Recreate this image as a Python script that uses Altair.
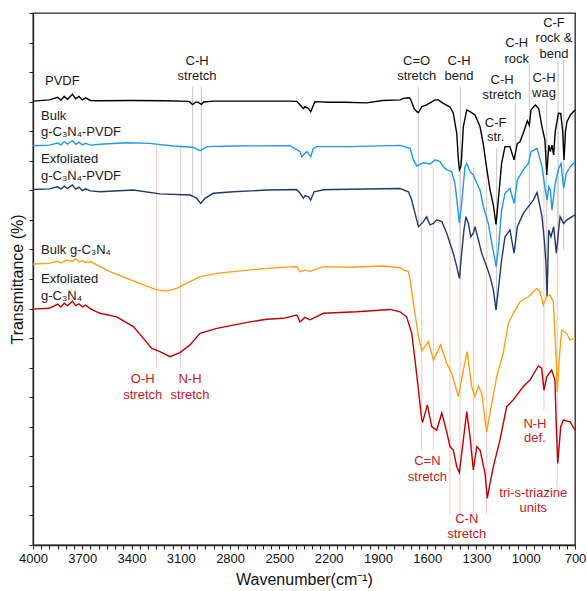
import altair as alt
import pandas as pd

# ---------------- spectra (wavenumber, transmittance offset) ----------------
PVDF_WN = [4000, 3900, 3850, 3830, 3810, 3790, 3760, 3740, 3720, 3700, 3680, 3650, 3600, 3400, 3200, 3050, 3028, 3010, 2995, 2975,
           2960, 2900, 2600, 2450, 2394, 2374, 2354, 2344, 2323, 2309, 2297, 2283, 2200, 2100, 1970, 1870, 1765, 1745, 1714, 1704,
           1694, 1680, 1663, 1653, 1633, 1603, 1583, 1552, 1532, 1502, 1471, 1461, 1441, 1420, 1410, 1404, 1395, 1390, 1380, 1359,
           1339, 1309, 1278, 1258, 1238, 1217, 1197, 1181, 1167, 1147, 1126, 1096, 1071, 1051, 1035, 1015, 990, 978, 968, 942,
           921, 901, 883, 872, 860, 850, 840, 830, 820, 801, 787, 775, 767, 758, 749, 728, 700]
PVDF_T = [150.2, 150.6, 151.5, 150.5, 151.8, 150.8, 152.5, 151.0, 151.8, 150.6, 151.3, 150.4, 150.3, 150.4, 150.3, 150.1, 149.0, 149.8, 149.8, 149.1,
          149.9, 150.2, 150.2, 150.2, 150.1, 148.9, 147.7, 148.3, 147.7, 146.6, 148.3, 150.0, 149.8, 149.8, 149.6, 150.4, 150.6, 151.1, 151.3, 151.1,
          149.9, 147.7, 146.6, 146.3, 148.3, 148.9, 149.6, 150.6, 150.6, 149.4, 148.5, 148.2, 146.1, 139.3, 130.3, 126.9, 128.0, 131.4, 141.5, 147.2,
          146.6, 145.5, 141.5, 135.5, 127.6, 120.1, 115.0, 108.5, 116.7, 129.1, 134.8, 134.8, 130.3, 135.9, 136.4, 139.3, 143.5, 142.0, 147.2, 148.9,
          147.7, 141.5, 137.0, 125.2, 135.3, 133.1, 135.3, 132.0, 140.0, 146.1, 146.0, 140.0, 130.3, 140.0, 143.2, 145.5, 147.2]

BULK_PVDF_WN = [4000, 3900, 3850, 3830, 3810, 3790, 3760, 3740, 3720, 3700, 3680, 3650, 3592, 3430, 3290, 3146, 3028, 2983, 2942, 2780,
                2435, 2374, 2364, 2344, 2333, 2323, 2309, 2293, 2273, 2070, 1765, 1704, 1684, 1663, 1653, 1623, 1583, 1552, 1522, 1502,
                1481, 1451, 1431, 1417, 1404, 1390, 1370, 1359, 1339, 1319, 1298, 1278, 1258, 1228, 1207, 1187, 1181, 1167, 1147, 1126,
                1096, 1071, 1051, 1015, 984, 968, 931, 901, 881, 870, 860, 850, 840, 820, 799, 785, 769, 753, 728, 700]
BULK_PVDF_T = [135.1, 135.3, 136.0, 135.4, 136.5, 135.6, 136.8, 135.6, 136.3, 135.4, 135.9, 135.3, 135.6, 136.1, 135.9, 135.0, 134.6, 133.4, 134.8, 135.0,
               135.1, 133.1, 131.4, 132.5, 133.1, 132.5, 131.4, 134.2, 134.8, 134.8, 135.2, 134.2, 130.3, 128.2, 128.6, 129.3, 128.9, 130.3, 129.7, 128.0,
               127.0, 126.3, 122.4, 115.6, 109.0, 115.6, 128.0, 129.1, 126.3, 125.2, 122.4, 120.1, 114.5, 108.8, 102.1, 96.4, 94.2, 99.8, 113.3, 119.0,
               120.7, 115.6, 123.5, 126.9, 129.1, 133.1, 134.2, 128.0, 120.1, 116.7, 121.2, 120.1, 113.3, 122.4, 127.4, 129.1, 120.7, 125.8, 128.0, 129.7]

EXF_PVDF_WN = [4000, 3900, 3850, 3830, 3810, 3790, 3760, 3740, 3720, 3700, 3680, 3650, 3592, 3389, 3227, 3044, 3028, 3003, 2979, 2953,
               2902, 2780, 2577, 2394, 2374, 2354, 2344, 2323, 2309, 2289, 2232, 2172, 1765, 1714, 1694, 1674, 1653, 1623, 1603, 1583,
               1562, 1542, 1511, 1481, 1441, 1420, 1404, 1390, 1376, 1364, 1349, 1335, 1319, 1309, 1288, 1268, 1238, 1217, 1197, 1181,
               1167, 1147, 1126, 1096, 1071, 1051, 1015, 984, 954, 931, 901, 887, 877, 870, 860, 846, 830, 814, 791, 769,
               749, 700]
EXF_PVDF_T = [120.3, 120.5, 121.2, 120.4, 121.4, 120.6, 121.8, 120.4, 121.1, 119.9, 120.5, 119.8, 119.5, 120.1, 118.8, 118.4, 118.0, 117.3, 115.6, 117.3,
              119.0, 119.5, 120.1, 120.3, 119.0, 117.3, 118.2, 117.8, 116.7, 119.5, 120.2, 120.3, 120.6, 119.5, 116.7, 112.2, 107.7, 109.4, 111.1, 108.3,
              108.8, 110.0, 109.4, 105.5, 98.7, 94.2, 90.2, 98.7, 106.6, 111.1, 108.8, 104.3, 105.5, 107.7, 103.2, 98.7, 94.2, 90.8, 86.3, 79.5,
              86.3, 96.4, 104.3, 106.6, 98.7, 107.7, 112.2, 114.5, 116.7, 119.3, 111.1, 103.2, 95.4, 84.2, 106.6, 104.3, 107.7, 98.7, 111.1, 108.8,
              110.0, 111.7]

BULK_CN_WN = [4000, 3900, 3850, 3830, 3800, 3760, 3740, 3720, 3700, 3680, 3650, 3592, 3531, 3429, 3328, 3247, 3186, 3125, 3064, 2983,
              2881, 2780, 2577, 2394, 2374, 2344, 2313, 2232, 2070, 1867, 1765, 1745, 1714, 1704, 1684, 1653, 1633, 1593, 1562, 1518,
              1481, 1451, 1410, 1380, 1356, 1329, 1309, 1288, 1268, 1238, 1207, 1177, 1137, 1106, 1076, 1035, 984, 933, 913, 893,
              872, 852, 832, 815, 808, 795, 781, 750, 730, 700]
BULK_CN_T = [95.1, 95.3, 96.0, 95.4, 96.3, 96.0, 96.9, 95.8, 96.2, 95.6, 95.9, 94.2, 92.5, 90.2, 88.0, 86.3, 85.9, 86.8, 88.5, 90.8,
             91.9, 92.5, 93.6, 94.2, 92.5, 93.0, 92.6, 94.2, 94.0, 94.4, 93.8, 93.0, 92.5, 89.7, 81.9, 70.5, 65.7, 68.8, 62.6, 67.7,
             61.5, 58.1, 50.2, 59.2, 65.4, 53.6, 50.2, 53.8, 51.3, 38.2, 47.9, 56.9, 64.9, 75.0, 78.4, 82.3, 84.0, 86.8, 85.7, 81.2,
             84.0, 84.6, 82.3, 63.7, 51.9, 63.7, 72.7, 71.6, 69.4, 69.9]

EXF_CN_WN = [4000, 3900, 3850, 3830, 3810, 3790, 3760, 3740, 3720, 3700, 3680, 3650, 3592, 3490, 3389, 3328, 3277, 3227, 3166, 3105,
             3044, 2983, 2881, 2780, 2679, 2577, 2476, 2394, 2374, 2344, 2313, 2232, 2029, 1826, 1765, 1725, 1694, 1674, 1653, 1633,
             1627, 1599, 1572, 1542, 1511, 1481, 1461, 1441, 1420, 1404, 1380, 1359, 1339, 1319, 1298, 1278, 1248, 1234, 1217, 1197,
             1157, 1116, 1076, 1015, 974, 923, 903, 889, 872, 842, 822, 815, 805, 787, 771, 730, 700]
EXF_CN_T = [79.8, 80.1, 81.5, 80.5, 81.8, 81.0, 82.5, 81.0, 81.6, 80.6, 81.2, 79.9, 78.4, 77.2, 73.9, 69.9, 66.5, 65.4, 63.7, 65.1,
            67.7, 71.6, 73.3, 74.4, 75.5, 76.4, 76.7, 77.8, 75.5, 77.0, 76.2, 78.4, 78.9, 79.7, 78.9, 77.2, 71.6, 62.6, 52.4, 42.3,
            41.7, 47.4, 40.0, 38.9, 44.6, 38.3, 33.3, 32.1, 26.5, 24.5, 35.5, 45.1, 36.6, 25.4, 33.3, 32.1, 24.3, 15.8, 21.0, 26.5,
            35.5, 46.8, 49.1, 53.6, 55.8, 60.6, 59.8, 52.4, 56.9, 59.2, 55.8, 42.0, 27.6, 40.0, 42.3, 41.7, 38.9]

SERIES = ["PVDF", "Bulk g-C3N4-PVDF", "Exfoliated g-C3N4-PVDF", "Bulk g-C3N4", "Exfoliated g-C3N4"]
COLORS = ["#000000", "#1b9be8", "#1f3a6b", "#ffa010", "#c00000"]

# ---------------- guide lines ----------------
GREY_WN = [3028, 2975, 1654, 1398, 1177, 1063, 978, 872, 803, 769]
GREY_TOP = [155.0, 155.0, 155.0, 155.0, 134.3, 149.5, 162.4, 150.6, 164.1, 164.1]
GREY_BOT = [118.4, 118.4, 107.9, 89.7, 79.5, 99.8, 111.6, 84.6, 99.8, 99.8]

PINK_WN = [3249, 3103, 1633, 1563, 1461, 1400, 1319, 1238, 889, 808]
PINK_TOP = [134.7, 134.7, 127.9, 127.9, 127.9, 127.9, 127.9, 127.9, 126.9, 126.9]
PINK_BOT = [60.2, 60.2, 32.1, 32.1, 10.2, 10.2, 10.2, 10.2, 45.7, 19.6]

# ---------------- labels ----------------
NAME_X = [3927, 3951, 3951, 3951, 3951, 3951, 3951, 3951]
NAME_Y = [155.6, 143.8, 138.4, 129.2, 123.5, 98.5, 88.6, 82.9]
NAME_TEXT = ["PVDF", "Bulk", "g-C₃N₄-PVDF", "Exfoliated", "g-C₃N₄-PVDF", "Bulk g-C₃N₄", "Exfoliated", "g-C₃N₄"]

BAND_X = [3001, 3001, 1664, 1664, 1406, 1406, 1144, 1144, 1183, 1183, 1055, 1055, 889, 889, 828, 828, 828]
BAND_Y = [162.4, 157.3, 162.4, 157.3, 162.4, 157.3, 156.0, 150.9, 141.5, 136.7, 168.5, 163.1, 156.6, 151.6, 175.3, 170.2, 164.8]
BAND_TEXT = ["C-H", "stretch", "C=O", "stretch", "C-H", "bend", "C-H", "stretch", "C-F", "str.",
             "C-H", "rock", "C-H", "wag", "C-F", "rock &", "bend"]

RED_X = [3332, 3332, 3044, 3044, 1599, 1599, 1359, 1359, 944, 944, 954, 954]
RED_Y = [54.7, 49.4, 54.7, 49.4, 27.1, 21.7, 7.4, 2.4, 39.7, 34.7, 16.3, 11.3]
RED_TEXT = ["O-H", "stretch", "N-H", "stretch", "C=N", "stretch", "C-N", "stretch", "N-H", "def.", "tri-s-triazine", "units"]

FONT = "Liberation Sans"

frames = []
for name, wn, t in zip(SERIES,
                       [PVDF_WN, BULK_PVDF_WN, EXF_PVDF_WN, BULK_CN_WN, EXF_CN_WN],
                       [PVDF_T, BULK_PVDF_T, EXF_PVDF_T, BULK_CN_T, EXF_CN_T]):
    frames.append(pd.DataFrame({"wn": wn, "t": t, "series": name}))
spec = pd.concat(frames, ignore_index=True)

grey = pd.DataFrame({"wn": GREY_WN, "t": GREY_TOP, "bot": GREY_BOT})
pink = pd.DataFrame({"wn": PINK_WN, "t": PINK_TOP, "bot": PINK_BOT})
names = pd.DataFrame({"wn": NAME_X, "t": NAME_Y, "txt": NAME_TEXT})
bands = pd.DataFrame({"wn": BAND_X, "t": BAND_Y, "txt": BAND_TEXT})
reds = pd.DataFrame({"wn": RED_X, "t": RED_Y, "txt": RED_TEXT})

xscale = alt.Scale(domain=[700, 4000], reverse=True, nice=False, zero=False)
yscale = alt.Scale(domain=[0, 180], nice=False, zero=False)

x_axis = alt.Axis(values=list(range(700, 4001, 50)), format="d",
                  labelExpr="datum.value % 300 == 100 ? datum.label : ''",
                  labelOverlap=False, labelFlush=False, tickSize=4, labelPadding=3,
                  labelFontSize=13, titleFontSize=16, titlePadding=6, titleFontWeight="normal")
y_axis = alt.Axis(values=list(range(0, 181, 10)), labels=False, tickSize=4,
                  titleFontSize=16, titlePadding=3, titleFontWeight="normal")

X = alt.X("wn:Q", scale=xscale, axis=x_axis, title="Wavenumber(cm⁻¹)")
Y = alt.Y("t:Q", scale=yscale, axis=y_axis, title="Transmittance (%)")

grey_rules = alt.Chart(grey).mark_rule(color="#c4c4c4", strokeWidth=1).encode(x=X, y=Y, y2="bot:Q")
pink_rules = alt.Chart(pink).mark_rule(color="#f6c4c4", strokeWidth=1).encode(x=X, y=Y, y2="bot:Q")

lines = alt.Chart(spec).mark_line(strokeWidth=1.4).encode(
    x=X, y=Y,
    color=alt.Color("series:N", scale=alt.Scale(domain=SERIES, range=COLORS), legend=None),
    detail="series:N")

name_text = alt.Chart(names).mark_text(align="left", baseline="alphabetic", font=FONT,
                                       fontSize=13, color="#1a1a1a").encode(x=X, y=Y, text="txt:N")
band_text = alt.Chart(bands).mark_text(align="center", baseline="alphabetic", font=FONT,
                                       fontSize=13, color="#1a1a1a").encode(x=X, y=Y, text="txt:N")
red_text = alt.Chart(reds).mark_text(align="center", baseline="alphabetic", font=FONT,
                                     fontSize=13, color="#cc1818").encode(x=X, y=Y, text="txt:N")

chart = alt.layer(grey_rules, pink_rules, lines, name_text, band_text, red_text).properties(
    width=542, height=532,
    autosize=alt.AutoSizeParams(type="none"),
    padding={"left": 33, "top": 13, "right": 12, "bottom": 46},
).configure_view(stroke="#222222", strokeWidth=1.3).configure_axis(
    grid=False, domainColor="#222222", domainWidth=1.3, tickColor="#222222", tickWidth=1,
    labelColor="#111111", titleColor="#111111", labelFont=FONT, titleFont=FONT
)

chart.save("out.html", embed_options={"renderer": "svg", "actions": False})
